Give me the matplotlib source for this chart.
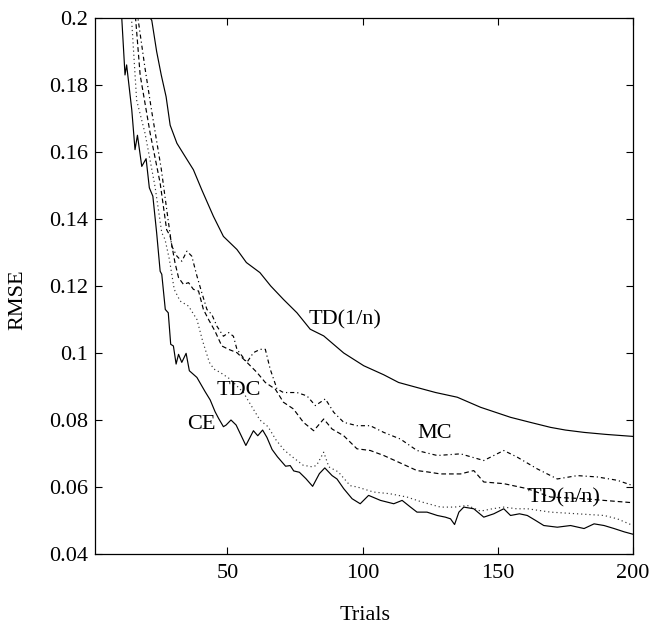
import matplotlib
matplotlib.use('Agg')
import matplotlib.pyplot as plt
import numpy as np

# RMSE curves (trial, value)
td1n_trials = [20, 21.4, 22, 23.8, 25.5, 27.3, 28.8, 31.3, 34.3, 37.4, 40.5, 44.8, 48.5, 53.5, 57, 62, 66,
               70.7, 75.7, 80.6, 85.6, 93, 100.4, 107.8, 113.3, 120.1, 127, 135, 143.6, 154.7, 162, 169.5,
               175, 181.9, 190, 200]
td1n_rmse = [0.206, 0.2, 0.1993, 0.190, 0.183, 0.1765, 0.168, 0.1626, 0.1587, 0.1547, 0.1487, 0.1408, 0.1348,
             0.1309, 0.127, 0.124, 0.120, 0.116, 0.112, 0.1071, 0.1051, 0.100, 0.0962, 0.0935, 0.0912, 0.0897,
             0.0882, 0.0868, 0.0838, 0.0808, 0.0793, 0.0778, 0.077, 0.0763, 0.0757, 0.0751]

mc_trials = [16, 19.5, 22, 25.5, 28, 29.4, 31.3, 33.1, 35, 36.8, 38.7, 40.5, 42.4, 44.2, 46.1, 48.5, 50.4,
             52.2, 53.5, 57.2, 59.6, 62.1, 64, 65.8, 68.3, 70.7, 75.7, 79.4, 82.5, 86.2, 89.3, 93, 97.9,
             102.8, 107.8, 114, 120.1, 127.6, 136.2, 144.8, 152.2, 157.2, 164.6, 172, 179.4, 186.8, 194.2, 200]
mc_rmse = [0.205, 0.185, 0.172, 0.155, 0.140, 0.1319, 0.1289, 0.1274, 0.1304, 0.1289, 0.123, 0.118, 0.113,
           0.1115, 0.108, 0.105, 0.1061, 0.105, 0.1011, 0.0972, 0.1001, 0.1011, 0.1011, 0.0952, 0.0893, 0.0882,
           0.0882, 0.0872, 0.0843, 0.0863, 0.0823, 0.0793, 0.0783, 0.0783, 0.0763, 0.0743, 0.0709, 0.0694,
           0.0699, 0.0679, 0.0709, 0.0689, 0.0654, 0.0624, 0.0634, 0.063, 0.062, 0.0604]

tdnn_trials = [15.5, 17.7, 21.4, 25.1, 27.5, 28.8, 30.6, 31.9, 33.7, 35.6, 37.4, 39.3, 41.1, 43, 45.4, 47.9,
               50.4, 53.5, 57.2, 60.9, 64, 67.7, 70.7, 74.4, 78.1, 81.9, 85.6, 88.7, 93, 97.9, 102.8, 107.8,
               113.3, 120.1, 124, 128.8, 136.2, 141.1, 144.8, 152.2, 160.9, 169.5, 181.9, 189.3, 200]
tdnn_rmse = [0.205, 0.183, 0.1656, 0.1507, 0.1368, 0.1349, 0.1269, 0.1225, 0.1205, 0.121, 0.119, 0.1185,
             0.113, 0.110, 0.1065, 0.1021, 0.1011, 0.1001, 0.0972, 0.0942, 0.0912, 0.0892, 0.0853, 0.0833,
             0.0793, 0.0768, 0.0803, 0.0773, 0.0753, 0.0714, 0.0709, 0.0694, 0.0674, 0.0649, 0.0645, 0.0639,
             0.0639, 0.0649, 0.0615, 0.061, 0.0595, 0.057, 0.0565, 0.056, 0.0553]

tdc_trials = [13.5, 14.5, 16.4, 19.5, 23.2, 25.7, 26.9, 28.5, 30.3, 32.5, 35.6, 38.7, 40.8, 43.3, 45, 47.3,
              51, 55.9, 58.4, 62, 65, 68, 71, 74, 78, 81.5, 83, 85.6, 87.5, 91, 95.4, 98, 104, 110, 116.4,
              122, 128.8, 134, 138.7, 143.6, 148, 152.2, 157, 161, 169.5, 179.4, 189.3, 194.2, 200]
tdc_rmse = [0.205, 0.2, 0.1755, 0.1656, 0.1497, 0.1359, 0.1339, 0.128, 0.119, 0.1155, 0.114, 0.110, 0.1036,
            0.0972, 0.0952, 0.0942, 0.0922, 0.0882, 0.0848, 0.080, 0.078, 0.074, 0.071, 0.069, 0.0665, 0.066,
            0.0665, 0.0704, 0.066, 0.0645, 0.0604, 0.060, 0.0585, 0.058, 0.057, 0.0555, 0.054, 0.054, 0.0545,
            0.0528, 0.0535, 0.054, 0.0535, 0.0535, 0.0525, 0.052, 0.0515, 0.0505, 0.0485]

ce_trials = [10, 10.9, 12.1, 12.7, 14.6, 15.8, 16.7, 18.3, 19.9, 21.1, 22.4, 23.8, 25.1, 25.7, 27, 28.1, 29,
             30, 31, 31.9, 33.1, 34.7, 35.9, 38.7, 41.7, 43.6, 45.4, 46.7, 48.5, 49.5, 51.3, 53.2, 56.8, 59.6,
             61.2, 63, 64.6, 66.5, 68.5, 71.5, 73.2, 74.5, 76.6, 79, 81.5, 84, 86, 88.7, 90.5, 93, 96.1, 99.1,
             102.2, 106.6, 111.5, 114.6, 117.7, 120.1, 123.8, 127.6, 130.6, 132.5, 134, 135.6, 137.4, 141.1,
             144.8, 148.5, 152.2, 154.7, 158, 160.9, 164, 167, 172, 176.9, 181.9, 185.6, 189.3, 193, 196.8, 200]
ce_rmse = [0.21, 0.2, 0.183, 0.186, 0.1726, 0.1607, 0.165, 0.1557, 0.158, 0.1493, 0.1468, 0.1359, 0.1244,
           0.1235, 0.113, 0.112, 0.1026, 0.1021, 0.0967, 0.0996, 0.0972, 0.0999, 0.0947, 0.0927, 0.0885, 0.086,
           0.0825, 0.0805, 0.078, 0.0785, 0.080, 0.0785, 0.0724, 0.0768, 0.0753, 0.0770, 0.0748, 0.0712, 0.069,
           0.0662, 0.0664, 0.0648, 0.0644, 0.0625, 0.0602, 0.064, 0.0657, 0.0634, 0.0624, 0.0595, 0.0565,
           0.055, 0.0575, 0.056, 0.055, 0.056, 0.054, 0.0525, 0.0525, 0.0515, 0.051, 0.0505, 0.0488, 0.0525,
           0.054, 0.0535, 0.051, 0.052, 0.0535, 0.0515, 0.052, 0.0515, 0.050, 0.0485, 0.048, 0.0485, 0.0476,
           0.049, 0.0485, 0.0476, 0.0466, 0.0459]

# curve labels (text, trial, rmse)
label_text = ['TD(1/n)', 'MC', 'TD(n/n)', 'TDC', 'CE']
label_x = [93.6, 126.6, 174.3, 54.3, 40.5]
label_y = [0.1098, 0.0761, 0.0569, 0.0887, 0.0786]

yticks = [0.04, 0.06, 0.08, 0.1, 0.12, 0.14, 0.16, 0.18, 0.2]
xticks = [50, 100, 150, 200]

plt.rcParams['font.family'] = ['Liberation Serif', 'DejaVu Serif']
plt.rcParams['font.size'] = 16

fig = plt.figure(figsize=(6.49, 6.24), dpi=100)
ax = fig.add_axes([95 / 649, 70 / 624, 538 / 649, 536 / 624])

lw = 0.85
ax.plot(td1n_trials, td1n_rmse, color='black', linewidth=lw, linestyle='-')
ax.plot(mc_trials, mc_rmse, color='black', linewidth=lw, linestyle=(0, (3.5, 2.5, 1, 2.5)))
ax.plot(tdnn_trials, tdnn_rmse, color='black', linewidth=lw, linestyle=(0, (4, 2.5)))
ax.plot(tdc_trials, tdc_rmse, color='#333333', linewidth=lw, linestyle=(0, (1, 2.5)))
ax.plot(ce_trials, ce_rmse, color='black', linewidth=lw, linestyle='-')

for txt, lx, ly in zip(label_text, label_x, label_y):
    ax.text(lx, ly, txt, ha='center', va='center', fontsize=16)

ax.set_xlim(1, 200)
ax.set_ylim(0.04, 0.2)
ax.set_xticks(xticks)
ax.set_xticklabels([str(v) for v in xticks])
ax.set_yticks(yticks)
ax.set_yticklabels(['%g' % v for v in yticks])
ax.tick_params(axis='both', direction='in', length=5, width=0.8, top=True, right=True)
ax.tick_params(axis='x', pad=7)
ax.tick_params(axis='y', pad=5)
for sp in ax.spines.values():
    sp.set_linewidth(0.9)

fig.text(365 / 649, 1 - 616 / 624, 'Trials', ha='center', va='center', fontsize=16)
fig.text(18 / 649, 1 - 300 / 624, 'RMSE', ha='center', va='center', rotation=90, fontsize=16)

fig.savefig('out.png', dpi=100)
